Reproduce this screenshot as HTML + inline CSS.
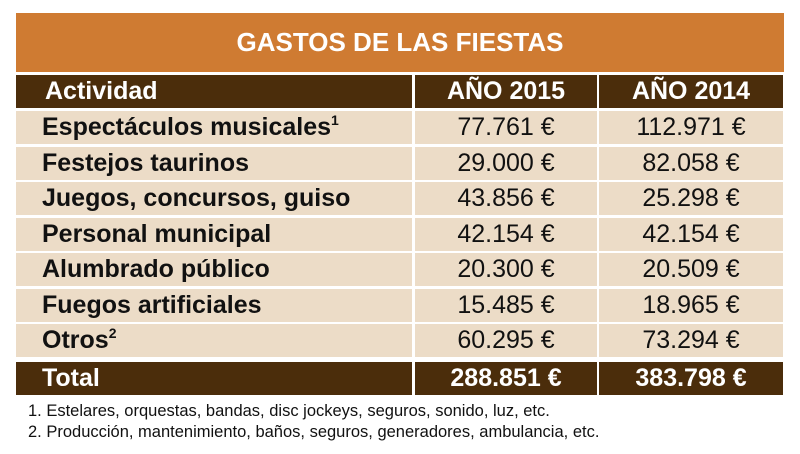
<!DOCTYPE html>
<html><head><style>
body{margin:0;width:800px;height:454px;background:#fff;position:relative;overflow:hidden;font-family:"Liberation Sans",sans-serif}
.b{position:absolute;box-sizing:border-box}
.t{position:absolute;white-space:nowrap;font-size:25px;line-height:33px}
.c{text-align:center}
</style></head><body>
<div class="b" style="left:16px;top:13px;width:768px;height:59px;background:#cf7b32"></div>
<div class="t c" style="left:16px;top:13px;width:768px;line-height:59px;color:#fff;font-weight:bold;font-size:26px">GASTOS DE LAS FIESTAS</div>
<div id="g"></div>
<script>
var rows=[["Espectáculos musicales<sup style='font-size:14px;vertical-align:10px;line-height:0'>1</sup>","77.761 €","112.971 €"],["Festejos taurinos","29.000 €","82.058 €"],["Juegos, concursos, guiso","43.856 €","25.298 €"],["Personal municipal","42.154 €","42.154 €"],["Alumbrado público","20.300 €","20.509 €"],["Fuegos artificiales","15.485 €","18.965 €"],["Otros<sup style='font-size:14px;vertical-align:10px;line-height:0'>2</sup>","60.295 €","73.294 €"]];
var h="";
function cells(top,ht,bg,col,bold,a,b,c,lx){
 var xs=[[16,396],[415,182],[599,184]];var tx=[a,b,c];
 for(var i=0;i<3;i++){h+='<div class="b" style="left:'+xs[i][0]+'px;top:'+top+'px;width:'+xs[i][1]+'px;height:'+ht+'px;background:'+bg+'"></div>';
 h+='<div class="t'+(i?' c':'')+'" style="left:'+(i?xs[i][0]:lx)+'px;top:'+top+'px;'+(i?'width:'+xs[i][1]+'px;':'')+'line-height:'+ht+'px;color:'+col+';font-weight:'+(bold||i==0?'bold':'normal')+'">'+tx[i]+'</div>';}
}
cells(75,33,"#4b2d0b","#fff",true,"Actividad","AÑO 2015","AÑO 2014",45);
for(var r=0;r<7;r++){cells(Math.round(111+r*35.5),33,"#ecdcc7","#111",false,rows[r][0],rows[r][1],rows[r][2],42);}
cells(362,33,"#4b2d0b","#fff",true,"Total","288.851 €","383.798 €",42);
document.getElementById("g").innerHTML=h;
</script>
<div class="t" style="left:28px;top:401px;font-size:16.5px;line-height:20px;color:#111">1. Estelares, orquestas, bandas, disc jockeys, seguros, sonido, luz, etc.</div>
<div class="t" style="left:28px;top:422px;font-size:16.5px;line-height:20px;color:#111">2. Producción, mantenimiento, baños, seguros, generadores, ambulancia, etc.</div>
</body></html>
